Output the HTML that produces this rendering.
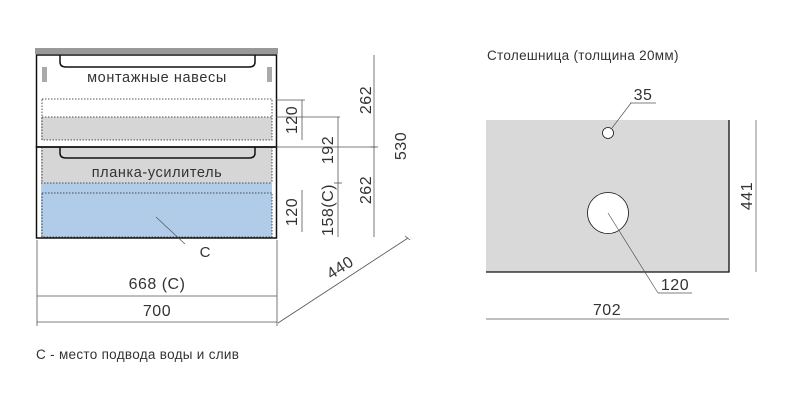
<!DOCTYPE html>
<html><head><meta charset="utf-8"><style>
html,body{margin:0;padding:0;background:#fff;}
svg{display:block;}
text{font-family:"Liberation Sans","DejaVu Sans",sans-serif;fill:#333;}
</style></head><body>
<svg width="800" height="408" viewBox="0 0 800 408" xmlns="http://www.w3.org/2000/svg">
<!-- cabinet -->
<rect x="35" y="48" width="243" height="6" fill="#999"/>
<rect x="41" y="117" width="231" height="23" fill="#d6d6d6"/>
<rect x="41" y="147" width="231" height="36" fill="#d6d6d6"/>
<rect x="41" y="183" width="231" height="55" fill="#b0cce8"/>
<rect x="36.5" y="55" width="240" height="92" fill="none" stroke="#111" stroke-width="1.5"/>
<rect x="36.5" y="147" width="240" height="91" fill="none" stroke="#111" stroke-width="1.5"/>
<path d="M60 55 V62 Q60 67 66 67 H249 Q255 67 255 62 V55" fill="none" stroke="#111" stroke-width="1.5"/>
<path d="M60 147 V153 Q60 158 66 158 H249 Q255 158 255 153 V147" fill="none" stroke="#111" stroke-width="1.5"/>
<rect x="42" y="67" width="5" height="15" fill="#aaa"/>
<rect x="267" y="67" width="5" height="15" fill="#aaa"/>
<g fill="none" stroke="#222" stroke-width="0.8" stroke-dasharray="1.5,1.5">
<rect x="42" y="99" width="230" height="41"/>
<line x1="42" y1="117" x2="272" y2="117"/>
<line x1="42" y1="147" x2="42" y2="183"/><line x1="272" y1="147" x2="272" y2="183"/>
<line x1="41" y1="183" x2="272" y2="183"/>
<rect x="42" y="193" width="230" height="44"/>
</g>
<text x="157" y="82" font-size="14.5" letter-spacing="0.6" text-anchor="middle">монтажные навесы</text>
<text x="157" y="177" font-size="14.5" letter-spacing="0.6" text-anchor="middle">планка-усилитель</text>
<line x1="156" y1="217" x2="185" y2="244" stroke="#555" stroke-width="0.7"/>
<text x="205" y="257" font-size="15" text-anchor="middle">C</text>
<!-- dims -->
<g stroke="#555" stroke-width="0.8" fill="none">
<line x1="276" y1="100" x2="305" y2="100"/>
<line x1="276" y1="117" x2="340" y2="117"/>
<line x1="276" y1="147" x2="376" y2="147"/>
<line x1="302" y1="100" x2="302" y2="140"/>
<line x1="302" y1="190" x2="302" y2="232"/>
<line x1="338" y1="117" x2="338" y2="237"/>
<line x1="334" y1="183" x2="342" y2="183"/>
<line x1="374" y1="55" x2="374" y2="237"/>
<line x1="370" y1="147" x2="378" y2="147"/>
<line x1="278" y1="323" x2="408" y2="238"/>
<line x1="405" y1="236" x2="410" y2="240"/>
<line x1="37" y1="240" x2="37" y2="326"/>
<line x1="277" y1="240" x2="277" y2="326"/>
<line x1="37" y1="296" x2="277" y2="296"/>
<line x1="37" y1="322" x2="277" y2="322"/>
</g>
<g font-size="16" letter-spacing="0.5">
<text transform="translate(297,120) rotate(-90)" text-anchor="middle">120</text>
<text transform="translate(297,212) rotate(-90)" text-anchor="middle">120</text>
<text transform="translate(333,150) rotate(-90)" text-anchor="middle">192</text>
<text transform="translate(333,210) rotate(-90)" text-anchor="middle">158(C)</text>
<text transform="translate(371,100) rotate(-90)" text-anchor="middle">262</text>
<text transform="translate(371,190) rotate(-90)" text-anchor="middle">262</text>
<text transform="translate(406,146) rotate(-90)" text-anchor="middle">530</text>
<text transform="translate(343,272) rotate(-33)" text-anchor="middle">440</text>
<text x="157" y="289" text-anchor="middle">668 (C)</text>
<text x="157" y="316" text-anchor="middle">700</text>
</g>
<text x="36" y="359" font-size="13.5" letter-spacing="0.3">C - место подвода воды и слив</text>
<!-- countertop -->
<text x="487" y="60" font-size="13.5" letter-spacing="0.3">Столешница (толщина 20мм)</text>
<rect x="486" y="120" width="243" height="152" fill="#d9d9d9"/>
<path d="M729 120 V272 H486" fill="none" stroke="#111" stroke-width="1.3"/>
<circle cx="608" cy="133" r="5.5" fill="#fff" stroke="#111" stroke-width="0.8"/>
<circle cx="608" cy="213" r="20.5" fill="#fff" stroke="#111" stroke-width="0.8"/>
<g stroke="#555" stroke-width="0.7" fill="none">
<line x1="612" y1="128" x2="631" y2="103"/>
<line x1="630" y1="103" x2="656" y2="103"/>
<line x1="608" y1="213" x2="658" y2="293"/>
<line x1="658" y1="293" x2="692" y2="293"/>
<line x1="756" y1="120" x2="756" y2="272"/>
<line x1="486" y1="319" x2="729" y2="319"/>
</g>
<g font-size="16" letter-spacing="0.5">
<text x="643" y="100" text-anchor="middle">35</text>
<text x="675" y="290" text-anchor="middle">120</text>
<text x="607" y="315" text-anchor="middle">702</text>
<text transform="translate(752,196) rotate(-90)" text-anchor="middle">441</text>
</g>
</svg>
</body></html>
